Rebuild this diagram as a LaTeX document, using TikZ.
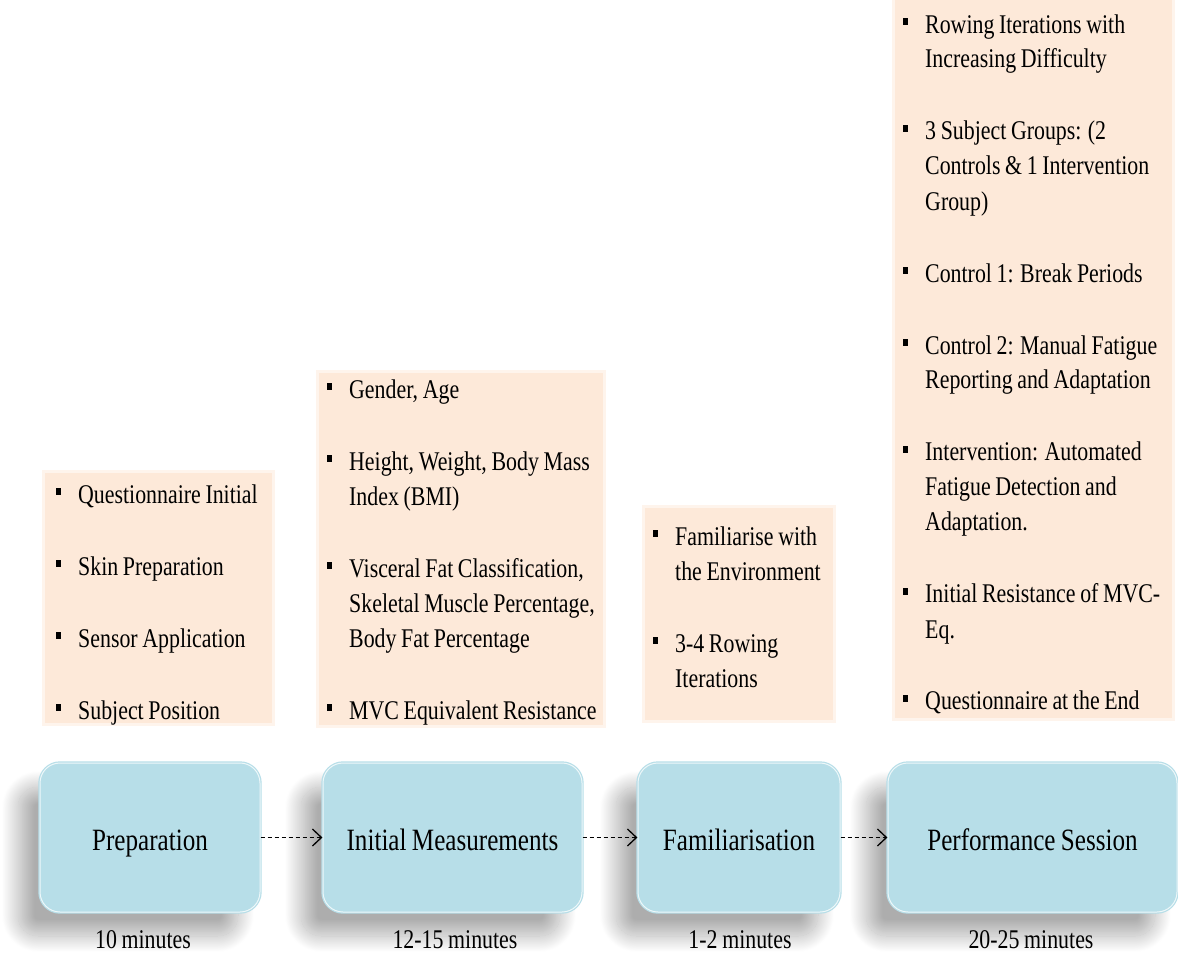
\documentclass[tikz,border=0pt]{standalone}
\usepackage{fontspec}
\setmainfont[FakeStretch=0.81,WordSpace=0.85]{Liberation Serif}
\usetikzlibrary{arrows.meta,shadows.blur}

\definecolor{stepblue}{RGB}{183,222,232}
\definecolor{notepeach}{RGB}{253,233,217}

% square bullet hung in the left margin, and the gap between items
\newcommand{\bul}{\spaceskip=0pt\xspaceskip=0pt\leavevmode\llap{\rule[8pt]{5.5pt}{7pt}\hspace{17pt}}}
\newcommand{\nextitem}{\par\vspace{37pt}\bul}

\tikzset{
  phase/.style={rectangle, rounded corners=20pt, fill=stepblue, draw=stepblue,
    double=white!75!stepblue, double distance=1pt, line width=1.2pt,
    blur shadow={shadow xshift=-22pt, shadow yshift=-24pt, shadow blur radius=16pt,
      shadow blur steps=40, shadow opacity=32},
    font=\fontsize{31}{36}\selectfont, text height=25pt, text depth=0pt,
    minimum height=149pt, inner sep=0pt},
  notes/.style={anchor=base west, inner sep=0pt, text width=300pt,
    font=\fontsize{27}{35}\selectfont},
  dur/.style={anchor=base, inner sep=0pt, font=\fontsize{27}{35}\selectfont},
  flow/.style={dash pattern=on 4pt off 3pt, line width=1.3pt, -{Straight Barb[length=9pt,width=17pt]}},
  peach/.style={fill=notepeach, draw=notepeach, draw opacity=0.5, line width=6pt}
}

\begin{document}
\begin{tikzpicture}[x=1pt,y=-1pt]
    \useasboundingbox (0,0) rectangle (1178,953);

    % panels behind the bullet lists
    \path[peach] (45,473) rectangle (272,723);
    \path[peach] (319,373) rectangle (603,725);
    \path[peach] (645,508) rectangle (833,720);
    \path[peach] (895,-6) rectangle (1172,718);

    \node[notes] (prepnotes) at (78,503) {\bul Questionnaire Initial\nextitem Skin Preparation\nextitem Sensor Application\nextitem Subject Position};
    \node[notes] (measnotes) at (349,398) {\bul Gender, Age\nextitem Height, Weight, Body Mass\\Index (BMI)\nextitem Visceral Fat Classification,\\Skeletal Muscle Percentage,\\Body Fat Percentage\nextitem MVC Equivalent Resistance};
    \node[notes] (famnotes) at (675,545) {\bul Familiarise with\\the Environment\nextitem 3-4 Rowing\\Iterations};
    \node[notes] (perfnotes) at (925,33) {\bul Rowing Iterations with\\Increasing Difficulty\nextitem 3 Subject Groups: (2\\Controls \& 1 Intervention\\Group)\nextitem Control 1: Break Periods\nextitem Control 2: Manual Fatigue\\Reporting and Adaptation\nextitem Intervention: Automated\\Fatigue Detection and\\Adaptation.\nextitem Initial Resistance of MVC-\\Eq.\nextitem Questionnaire at the End};

    % the four phases
    \node[phase, minimum width=220pt] (prep) at (150,837.5) {Preparation};
    \node[phase, minimum width=259pt] (meas) at (452.5,837.5) {Initial Measurements};
    \node[phase, minimum width=202pt] (fam) at (739,837.5) {Familiarisation};
    \node[phase, minimum width=289pt] (perf) at (1032.5,837.5) {Performance Session};

    \draw[flow] (prep) -- (meas);
    \draw[flow] (meas) -- (fam);
    \draw[flow] (fam) -- (perf);

    % durations
    \node[dur] (preptime) at (143,948) {10 minutes};
    \node[dur] (meastime) at (455,948) {12-15 minutes};
    \node[dur] (famtime) at (740,948) {1-2 minutes};
    \node[dur] (perftime) at (1031,948) {20-25 minutes};
\end{tikzpicture}
\end{document}
